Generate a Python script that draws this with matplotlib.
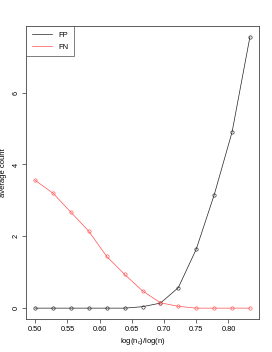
import matplotlib
matplotlib.use("Agg")
import matplotlib.pyplot as plt

x = [0.5, 0.5278, 0.5556, 0.5833, 0.6111, 0.6389, 0.6667, 0.6944, 0.7222, 0.75, 0.7778, 0.8056, 0.8333]
fp = [0.0, 0.0, 0.0, 0.0, 0.0, 0.0, 0.04, 0.14, 0.57, 1.64, 3.15, 4.9, 7.55]
fn = [3.56, 3.2, 2.67, 2.14, 1.44, 0.94, 0.48, 0.15, 0.05, 0.0, 0.0, 0.0, 0.0]
xticks = [0.50, 0.55, 0.60, 0.65, 0.70, 0.75, 0.80]
yticks = [0, 2, 4, 6]

plt.rcParams['font.family'] = ['Liberation Sans', 'DejaVu Sans']
fig = plt.figure(figsize=(2.72, 3.52), dpi=100)
ax = fig.add_axes([0.0974, 0.0938, 0.853, 0.832])

red = '#ff5050'
ax.plot(x, fp, color='#222222', lw=0.5, marker='o', ms=2.4, mfc='none', mew=0.45, label='FP')
ax.plot(x, fn, color=red, lw=0.5, marker='o', ms=2.4, mfc='none', mew=0.45, label='FN')

lo, hi = min(x), max(x)
pad = (hi - lo) * 0.04
ax.set_xlim(lo - pad, hi + pad)
ymax = max(max(fp), max(fn))
ax.set_ylim(-ymax * 0.04, ymax * 1.04)

ax.set_xticks(xticks)
ax.set_xticklabels(['%.2f' % v for v in xticks])
ax.set_yticks(yticks)
ax.set_yticklabels([str(v) for v in yticks], rotation=90, va='center')
ax.tick_params(axis='both', labelsize=5.3, length=3, width=0.5, direction='out', pad=2, colors='#333333', labelcolor='black')
for s in ax.spines.values():
    s.set_linewidth(0.6)
    s.set_color('#444444')

ax.set_xlabel(r'log(n$_\mathregular{c}$)/log(n)', fontsize=5.5, labelpad=2)
ax.set_ylabel('average count', fontsize=5.5, labelpad=4)

leg = ax.legend(loc='upper left', fontsize=5.5, frameon=True, fancybox=False, borderaxespad=0,
                handlelength=2.6, handletextpad=0.9, borderpad=0.7, labelspacing=0.6)
leg.get_frame().set_edgecolor('#444444')
leg.get_frame().set_linewidth(0.6)
for h in leg.get_lines():
    h.set_marker('')

fig.savefig('out.png', dpi=100)
